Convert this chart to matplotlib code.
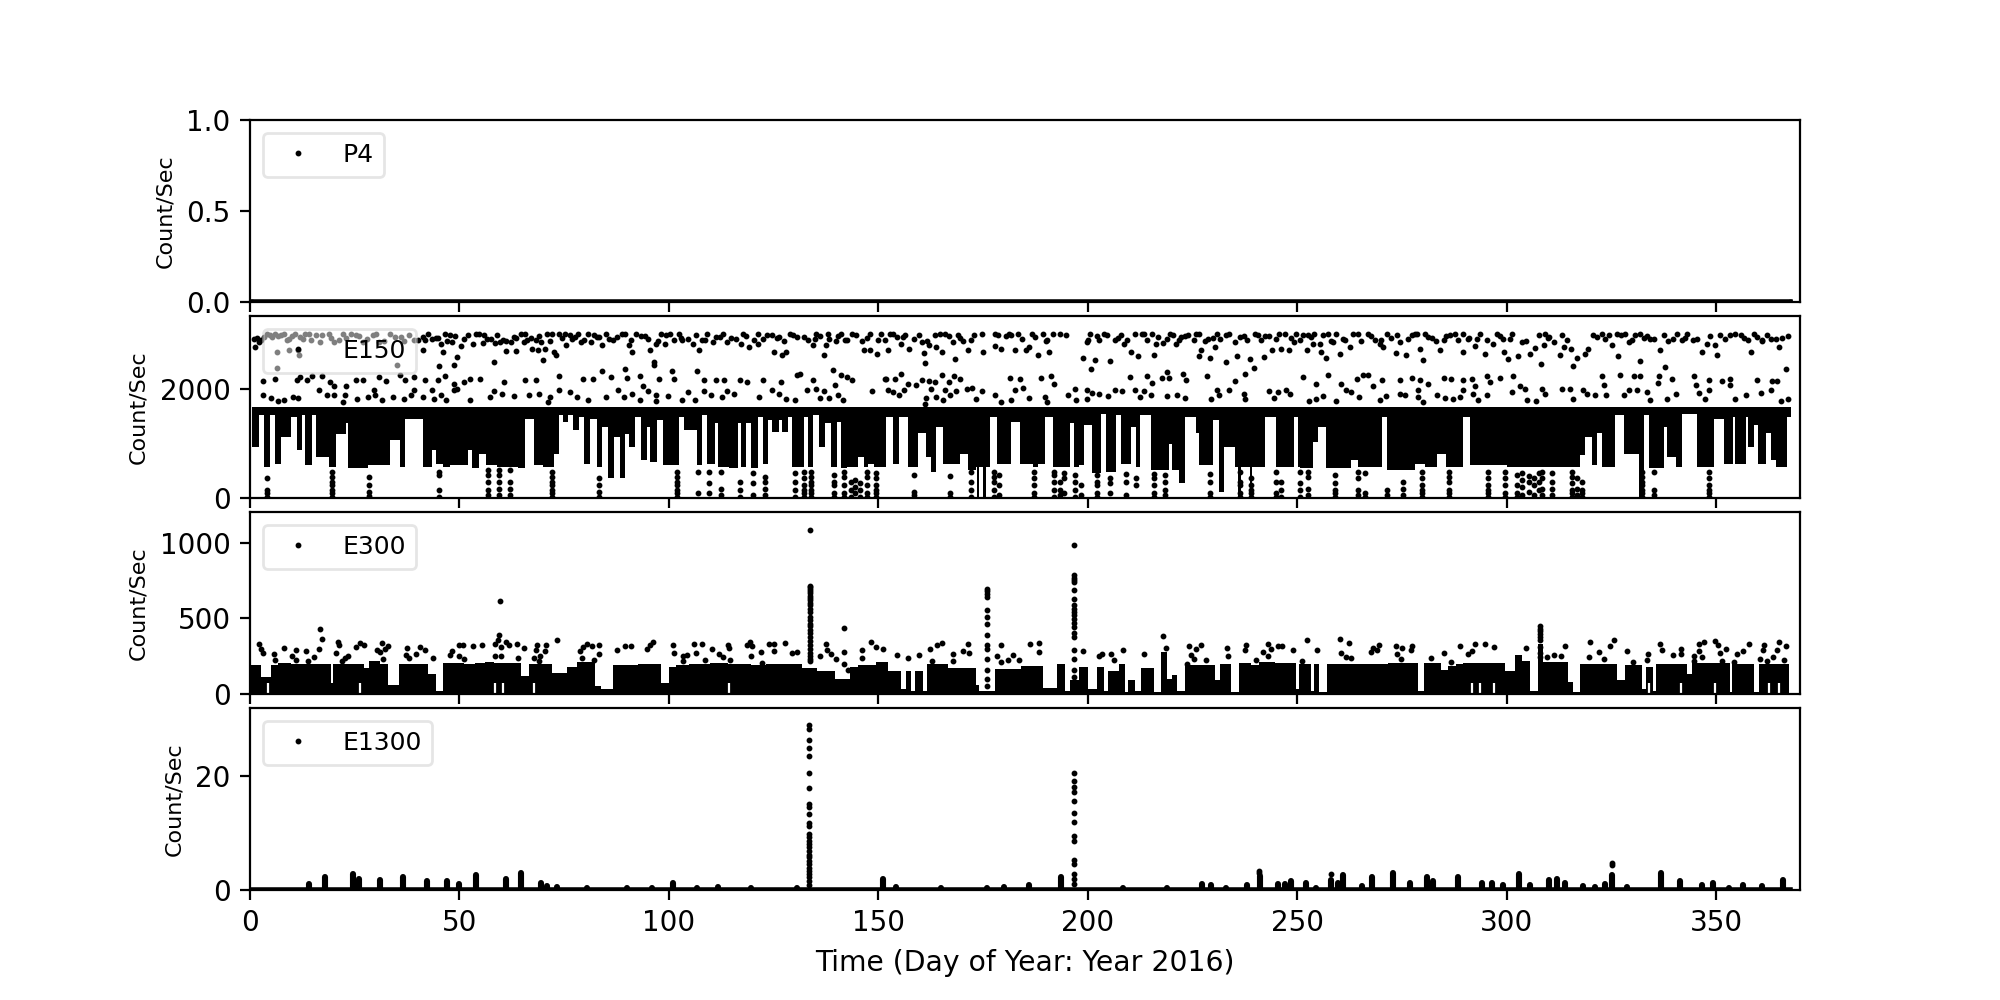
import matplotlib
matplotlib.use("Agg")
import matplotlib.pyplot as plt

x_label = "Time (Day of Year: Year 2016)"
y_label = "Count/Sec"
x_ticks = [0, 50, 100, 150, 200, 250, 300, 350]

# P4 stays at zero the whole year
p4_days = [0.4, 367.5]
p4_counts = [0, 0]

# E150: solid part of the curve, lower edge from each day until the next one
e150_band_days = [
    0.4, 2.1, 3.4, 4.7, 6.0, 7.5, 9.8, 11.1, 12.4, 13.2, 14.9, 15.8, 18.8, 20.5, 23.0, 23.5,
    28.2, 33.3, 35.8, 37.1, 41.4, 43.5, 44.4, 46.1, 47.8, 52.0, 52.9, 54.6, 56.3, 58.9, 64.0,
    65.7, 67.8, 70.0, 72.5, 73.8, 74.7, 75.9, 77.2, 78.5, 79.8, 81.1, 82.8, 84.0, 85.5, 86.9,
    88.3, 89.4, 90.4, 92.0, 93.4, 94.7, 95.6, 97.1, 98.5, 102.4, 103.7, 106.7, 107.9, 109.2,
    110.9, 111.8, 114.3, 116.5, 117.3, 118.4, 119.5, 121.3, 122.4, 123.7, 124.6, 126.3, 127.0,
    128.4, 129.3, 131.4, 132.3, 133.1, 134.4, 135.8, 137.2, 138.7, 140.1, 141.0, 142.5, 145.1,
    146.6, 147.6, 148.9, 151.9, 153.4, 154.9, 157.0, 159.4, 161.3, 162.5, 163.7, 165.4, 169.4,
    171.5, 173.2, 173.5, 174.1, 175.0, 175.8, 176.6, 178.3, 181.7, 183.9, 186.9, 188.1, 189.8, 191.6, 195.8, 196.7, 197.8,
    199.2, 200.9, 203.1, 204.4, 206.7, 207.8, 210.3, 211.6, 212.5, 215.0, 219.3, 220.1, 221.8,
    223.1, 225.7, 226.5, 229.9, 231.2, 232.5, 235.1, 235.8, 236.6, 238.6, 239.3, 242.3, 244.9, 249.1, 250.2, 250.6,
    253.7, 254.9, 256.9, 262.9, 264.5, 270.1, 271.3, 278.1, 280.5, 283.3, 285.6, 287.2, 289.6,
    291.2, 300.0, 303.2, 315.2, 317.5, 318.7, 320.3, 321.5, 322.7, 325.9, 327.9, 331.5, 332.7,
    333.9, 337.5, 338.3, 340.3, 341.9, 345.5, 349.4, 351.8, 354.0, 354.6, 357.0, 357.6, 358.9,
    360.0, 361.8, 363.0, 364.2, 366.8, 367.8,
]
e150_band_lows = [
    940, 1520, 570, 1520, 630, 1120, 1490, 880, 1520, 600, 1520, 755, 570, 1180, 1370, 540,
    600, 1060, 570, 1460, 570, 880, 630, 570, 600, 880, 540, 815, 600, 570, 540,
    1460, 600, 570, 815, 1520, 1400, 1520, 1245, 1490, 630, 1460, 570, 1305, 355, 1120,
    355, 1180, 940, 1490, 695, 1305, 665, 1430, 600, 1490, 1245, 600, 1520, 630,
    1370, 570, 540, 1370, 570, 1370, 540, 1490, 630, 1430, 1215, 1430, 1215,
    1490, 570, 570, 1490, 570, 1520, 940, 1370, 570, 1400, 540, 570, 755,
    570, 630, 570, 1490, 630, 1490, 570, 1185, 755, 480, 1305, 630, 815,
    510, 570, 18, 570, 18, 570, 1490, 630, 1400, 630, 570, 630, 1490, 570, 1370, 570, 600,
    1340, 450, 1550, 480, 1520, 630, 1305, 570, 1520, 510, 1000, 510, 265,
    1490, 1185, 600, 1430, 110, 940, 570, 18, 570, 18, 570, 1490, 570, 1490, 570, 540,
    1030, 1305, 540, 695, 570, 1490, 510, 630, 570, 815, 570, 570, 1490,
    600, 570, 570, 570, 785, 1120, 600, 1185, 570, 1520, 815, 18, 1520,
    540, 1305, 755, 570, 1550, 570, 1460, 630, 1490, 630, 1490, 940, 1340,
    630, 1185, 695, 570, 1490,
]
e150_band_top = 1670

# E150: dots above the solid part
e150_high_days = [
    0.9, 1.3, 2.1, 3.4, 4.7, 6.0, 6.8, 8.1, 9.4, 10.7, 11.9, 13.2, 14.5, 15.8, 16.6, 6.4, 9.4, 11.5, 11.8, 6.4,
    18.8, 20.1, 22.2, 23.0, 25.2, 26.9, 29.4, 30.7, 33.3, 34.6, 35.0, 36.7, 39.2, 41.4, 41.8, 41.4, 43.5, 44.4, 46.5, 47.8,
    45.6, 48.2, 46.1, 49.5, 48.6, 45.2, 50.3, 52.0, 51.2, 53.3, 54.6, 55.9, 55.5, 57.6, 58.4, 59.7, 61.0, 62.3, 63.6, 61.0,
    63.6, 58.2, 65.7, 65.3, 67.0, 68.3, 69.5, 70.8, 70.4, 67.4, 68.7, 70.0, 72.5, 73.0, 73.8, 75.1, 76.4, 77.6, 78.9, 75.5,
    80.6, 81.5, 82.8, 84.9, 84.0, 86.6, 87.5, 88.7, 90.4, 91.3, 92.2, 93.4, 95.1, 96.8, 95.6, 96.4, 96.4, 98.1, 99.4, 99.0,
    101.1, 102.4, 103.2, 104.5, 105.8, 107.1, 107.9, 109.2, 110.5, 112.2, 113.9, 114.8, 117.3, 117.7, 119.0, 121.2, 122.4, 124.6, 126.3, 128.0,
    127.1, 129.7, 125.0, 121.2,
    132.3, 133.1, 134.4, 135.2, 136.1, 136.9, 137.5, 138.2, 139.9, 141.0, 142.5, 143.8, 146.1, 146.6, 148.0, 148.0, 149.6, 150.6, 151.5, 152.3,
    152.7, 154.4, 155.3, 156.3, 157.4, 159.6, 160.8, 161.1, 160.4, 162.1, 163.4, 163.8, 165.1, 166.0, 167.7, 168.3, 168.9, 170.2, 171.5, 172.8,
    174.9, 174.7, 177.9, 177.9, 179.2, 180.5, 181.7, 182.6, 183.4, 185.2, 186.0, 186.7, 188.1, 189.4, 190.7, 190.3, 191.8, 194.7, 198.8, 199.7,
    200.5, 201.8, 200.7, 202.6, 203.9, 205.4, 206.5, 207.8, 208.6, 210.3, 211.2, 212.0, 212.9, 214.2, 215.4, 216.3, 215.9, 218.0, 219.7, 221.0,
    222.3, 224.0, 225.3, 226.5, 226.5, 227.0, 229.1, 228.7, 230.8, 230.4, 232.9, 232.9, 235.1, 235.7, 237.2, 238.7, 239.6, 239.9, 242.3, 242.1,
    244.0, 245.7, 246.2, 247.9, 249.1, 249.8,
    251.4, 252.6, 254.1, 255.3, 253.7, 252.2, 255.7, 256.9, 257.3, 258.5, 259.3, 261.3, 262.5, 260.3, 263.3, 265.3, 266.9, 268.5, 269.7, 270.5,
    271.3, 273.7, 273.5, 275.9, 274.5, 277.3, 278.5, 279.9, 279.3, 280.5, 282.1, 284.1, 284.9, 285.6, 287.6, 289.6, 289.5, 290.8, 292.4, 292.8,
    294.8, 296.8, 297.6, 299.2, 300.4, 299.4, 301.2, 302.6, 303.6, 305.6, 306.8, 308.1, 307.8, 309.2, 310.0, 308.8, 311.2, 313.2, 313.6, 312.8,
    315.3, 316.7, 315.9, 318.7, 319.5, 320.7, 322.7, 324.3, 325.1, 326.3, 328.3, 329.1, 330.7, 331.9, 334.3, 326.5, 331.9, 336.5, 337.5, 337.7,
    339.7, 341.9, 343.1, 345.5, 346.7, 347.8, 349.8, 350.2, 351.0, 353.4, 355.8, 358.2, 359.0, 361.0, 363.0, 365.0, 367.1, 366.6,
]
e150_high_counts = [
    2933, 2779, 2871, 2963, 2994, 3012, 2975, 3025, 2933, 3025, 2963, 3025, 2902, 2994, 2871, 2687, 2718, 2718, 2626, 2393,
    3025, 2871, 3025, 2951, 2994, 2871, 2994, 2871, 3025, 2963, 2442, 2890, 2902, 2963, 2902, 2718, 2933, 2951, 3025, 2994,
    2840, 2871, 2687, 2595, 2454, 2429, 2791, 2994, 2933, 2840, 3025, 2994, 2853, 2933, 2853, 2871, 2890, 2871, 2951, 2706,
    2699, 2503, 3025, 2871, 2951, 2902, 2871, 3025, 2748, 2748, 2718, 2546, 2687, 2626, 3025, 3025, 2994, 2963, 2871, 2810,
    3025, 2871, 2963, 3012, 2810, 2902, 2963, 3012, 2810, 2687, 3025, 2975, 2933, 2840, 2718, 2503, 2442, 3025, 2994, 2840,
    2914, 3025, 2902, 2933, 2840, 2718, 2902, 3012, 2871, 2963, 2871, 2951, 2840, 3025, 2779, 3025, 2933, 2994, 2963, 2687,
    2626, 2994, 2687, 2840,
    2963, 2902, 2810, 3025, 2975, 2626, 2810, 2933, 2890, 3025, 2902, 3012, 2890, 2718, 3012, 2730, 2657, 3025, 2902, 2718,
    3025, 2963, 2840, 2994, 2748, 2994, 2669, 2479, 2871, 2810, 2994, 2779, 2687, 3025, 2871, 2565, 2994, 2890, 2718, 2994,
    2687, 3012, 3012, 2791, 2748, 2975, 2994, 2730, 3025, 2718, 2779, 3012, 2626, 3025, 2687, 2902, 3025, 2994, 2577, 2871,
    3025, 2546, 2380, 2902, 3025, 2516, 2902, 2994, 2840, 2687, 3025, 2608, 3025, 2902, 3025, 2840, 2626, 2853, 3025, 2840,
    2963, 2994, 2902, 3025, 2608, 2718, 2583, 2933, 3025, 2779, 2503, 2994, 2871, 2608, 2975, 2565, 2399, 3025, 2975, 2595,
    2718, 3025, 2748, 2718, 2871, 3012,
    2994, 2994, 3025, 2840, 2840, 2718, 2687, 2583, 3025, 2871, 3012, 2902, 2779, 2645, 3025, 2890, 3012, 2902, 2840, 2779,
    3025, 2994, 2669, 2626, 2871, 2994, 3025, 2546, 2748, 3025, 2951, 2718, 2902, 2975, 3025, 3025, 2687, 2933, 2791, 2933,
    2657, 2840, 3025, 2933, 2565, 2687, 3025, 2608, 2871, 2645, 2767, 2473, 2994, 3025, 2963, 2810, 2871, 2994, 2779, 2626,
    2748, 2583, 2423, 2657, 2748, 2994, 3025, 2994, 2810, 3025, 3025, 2871, 2994, 3025, 2933, 2608, 2516, 2718, 2994, 2411,
    2933, 2902, 3025, 2933, 2687, 2840, 2810, 2626, 2994, 2994, 2994, 2687, 3025, 2902, 2933, 2779, 2975, 2380,
]

# E150: the crowded top row of dots
e150_top_days = [
    1.7, 2.6, 4.0, 5.2, 7.4, 8.8, 10.1, 12.6, 14.0, 17.3, 19.4, 21.2, 24.0, 25.9, 28.0, 30.0, 32.0, 36.0, 37.9, 40.2,
    42.6, 44.9, 47.1, 49.0, 53.9, 56.6, 59.0, 60.4, 62.9, 64.6, 66.2, 69.0, 71.6, 72.2, 74.5, 76.9, 78.2, 79.8, 82.1, 83.4,
    85.7, 89.5, 91.0, 94.4, 97.5, 100.2, 102.9, 106.4, 108.5, 111.3, 113.0, 115.9, 118.4, 120.3, 123.5, 125.8, 127.5, 129.0, 130.6, 134.8,
    137.9, 140.3, 142.0, 144.6, 147.3, 150.0, 153.5, 155.8, 158.4, 161.7, 164.6, 166.9, 169.5, 172.1, 178.6, 181.2, 184.3, 187.5, 190.0, 193.4,
    200.1, 202.2, 204.6, 207.1, 209.4, 213.5, 216.8, 218.9, 220.4, 221.7, 223.2, 225.9, 228.0, 229.8, 231.6, 233.6, 236.4, 238.1, 240.6, 241.3,
    243.2, 245.0, 247.0, 248.6, 250.7, 253.2, 256.2, 258.0, 260.8, 264.4, 267.6, 270.0, 272.4, 276.4, 278.0, 281.3, 283.0, 286.4, 288.4, 291.0,
    293.6, 295.4, 298.4, 300.8, 304.6, 309.9, 314.3, 321.5, 323.5, 327.2, 330.0, 332.7, 333.4, 335.1, 338.6, 340.6, 342.5, 344.4, 348.5, 352.2,
    354.6, 356.7, 357.5, 359.8, 360.9, 362.1, 364.2, 365.7,
]
e150_top_counts = [
    2951, 2902, 3012, 2963, 2994, 2914, 2975, 2933, 3012, 2994, 2951, 2902, 3012, 2975, 2933, 3025, 2890, 2963, 2994, 2914,
    3012, 2951, 2890, 2975, 3012, 2933, 2994, 2902, 2963, 3025, 2914, 2975, 2890, 3012, 2951, 2933, 3012, 2902, 2994, 2963,
    2933, 3012, 2902, 2975, 2890, 3012, 2951, 2994, 2914, 2963, 3025, 2933, 2975, 2902, 2994, 2951, 2890, 3012, 2963, 2933,
    3012, 2975, 2914, 2994, 2951, 2902, 3025, 2963, 2933, 2890, 3012, 2975, 2951, 2902, 2994, 3012, 2933, 2963, 2890, 3025,
    2914, 2975, 2994, 2951, 2902, 3012, 2963, 2933, 2994, 2902, 2975, 3012, 2890, 2951, 2933, 3025, 2963, 2902, 2994, 2914,
    2975, 2933, 3012, 2951, 2902, 2963, 2994, 2890, 2933, 3012, 2975, 2902, 2951, 2933, 3012, 2963, 2890, 2994, 2914, 2951,
    3025, 2902, 2975, 2933, 2890, 2951, 2902, 2963, 2933, 2994, 2902, 2951, 2975, 2933, 2890, 3012, 2951, 2914, 2975, 2933,
    3012, 2951, 2902, 2963, 2890, 2994, 2933, 2951,
]

e150_mid_days = [
    3.0, 6.0, 11.1, 11.9, 13.7, 14.9, 17.1, 19.2, 20.1, 22.9, 25.2, 27.0, 30.7, 32.4, 35.8, 37.1, 39.2, 41.8, 44.8, 46.5,
    48.6, 51.2, 52.6, 55.0, 60.6, 65.7, 68.3, 73.8, 79.4, 81.9, 84.0, 86.2, 89.6, 90.0, 93.0, 97.7, 100.7, 101.1, 106.7, 108.4,
    111.3, 113.1, 116.9, 118.6, 122.4, 126.7, 130.5,
    3.2, 5.1, 6.8, 8.1, 10.2, 11.5, 16.4, 18.3, 20.1, 22.6, 22.2, 25.6, 28.2, 29.7, 29.9, 31.6, 34.1, 36.7, 39.2, 38.4,
    41.4, 43.5, 43.9, 45.6, 48.6, 49.5, 46.9, 52.5, 57.2, 58.2, 60.2, 63.1, 66.6, 69.1, 71.7, 71.2, 73.8, 76.4, 78.1, 80.6,
    84.9, 87.9, 89.2, 91.3, 93.0, 93.9, 95.1, 96.8, 96.8, 99.8, 103.2, 104.5, 106.2, 108.4, 110.1, 112.6, 113.9, 115.6, 121.6, 124.6,
    126.3, 128.0, 130.1,
    131.4, 134.4, 132.9, 135.2, 136.9, 136.1, 139.1, 139.7, 141.0, 142.5, 143.8, 140.4, 141.6, 138.1, 148.5, 151.5, 152.3, 151.9, 154.0, 155.3,
    153.6, 154.9, 157.0, 156.1, 158.9, 160.4, 162.1, 163.4, 165.1, 166.8, 168.1, 169.4, 162.5, 166.0, 168.5, 167.2, 163.8, 161.3, 165.5, 171.1,
    172.4, 174.7, 173.2, 161.1, 177.9, 179.2, 181.3, 181.7, 183.7, 182.6, 184.5, 186.0, 188.7, 189.8, 191.1, 192.0, 190.3, 195.2, 196.9, 197.1,
    199.7, 199.7, 200.9, 202.6, 204.8, 206.5, 208.2, 211.2, 213.5, 212.5, 215.0, 210.1, 214.2, 215.4, 217.6, 218.9, 219.3, 222.7, 223.5, 218.9,
    221.4, 223.1, 228.5, 229.3, 230.8, 231.4, 233.8, 235.2, 237.4, 237.2, 237.6, 243.3, 244.5, 245.3, 247.3, 248.3,
    251.4, 254.5, 257.3, 260.5, 261.7, 262.9, 264.3, 265.7, 266.9, 270.1, 268.1, 274.5, 277.3, 279.3, 281.3, 284.9, 286.8, 289.6, 291.6, 292.4,
    295.2, 296.0, 298.4, 301.6, 252.9, 254.5, 256.1, 259.3, 264.8, 269.7, 271.1, 274.5, 275.7, 278.9, 278.9, 280.1, 283.3, 285.2, 287.2, 289.6,
    288.8, 292.0, 293.2, 295.2, 301.2, 303.2, 304.4, 304.8, 307.0, 308.5, 309.2, 313.2, 315.2, 315.9, 318.3, 319.1, 321.1, 322.7, 323.1, 323.8,
    327.1, 330.3, 331.9, 333.5, 336.3, 336.1, 339.5, 338.3, 340.3, 329.1, 327.9, 331.1, 334.3, 344.7, 345.1, 348.2, 348.2, 351.4, 353.4, 353.4,
    345.9, 347.4, 354.6, 357.0, 359.8, 360.6, 363.0, 363.4, 364.6, 365.4, 367.1,
]
e150_mid_counts = [
    2147, 2196, 2166, 2227, 2166, 2239, 2239, 2135, 2055, 2055, 2166, 2178, 2227, 2153, 2258, 2178, 2227, 2166, 2178, 2239,
    2104, 2135, 2196, 2196, 2135, 2166, 2166, 2239, 2196, 2196, 2337, 2227, 2380, 2215, 2239, 2196, 2337, 2196, 2337, 2178,
    2178, 2166, 2178, 2135, 2166, 2135, 2258,
    1902, 1847, 1779, 1798, 1859, 1847, 1994, 1890, 1890, 1890, 1767, 1816, 1859, 1982, 1890, 1798, 1859, 1828, 1982, 1890,
    1859, 1982, 1828, 1890, 1982, 2012, 1798, 1810, 1859, 1969, 1920, 1871, 1890, 1920, 1859, 1767, 1982, 1951, 1859, 1798,
    1859, 1982, 1859, 1908, 1798, 2055, 1969, 1890, 1779, 1871, 1810, 1951, 1798, 1969, 1890, 1859, 1969, 1920, 1859, 1994,
    1920, 1828, 1810,
    2276, 2178, 1982, 2012, 1969, 1847, 2350, 2074, 2258, 2227, 2178, 1890, 1798, 1847, 1969, 2196, 1982, 2196, 2196, 2276,
    1951, 1890, 2092, 1982, 2074, 2178, 2147, 2135, 2258, 2135, 2239, 2196, 2012, 1982, 1969, 1890, 1859, 1847, 1798, 2012,
    2031, 1969, 1828, 1724, 1890, 1767, 2215, 1798, 2196, 1994, 2031, 1847, 2215, 1859, 2239, 2092, 1767, 1902, 2012, 1810,
    1994, 1828, 1933, 1908, 1871, 1982, 1969, 1982, 1969, 1859, 1890, 2227, 2252, 2117, 2215, 2319, 2215, 2276, 2166, 1871,
    1890, 1847, 2252, 1828, 1994, 1890, 1982, 2147, 2276, 1920, 1816, 1969, 1847, 1951, 1982, 1920,
    2227, 2092, 2258, 2104, 1982, 1951, 2196, 2258, 2258, 2178, 2055, 2178, 2215, 2166, 2104, 2215, 2196, 2166, 2196, 2055,
    2239, 2135, 2215, 2239, 1785, 1828, 1871, 1779, 1859, 1798, 1871, 1908, 1890, 1982, 1859, 1767, 1890, 1841, 1828, 1982,
    1859, 1920, 1798, 1890, 1951, 2055, 2012, 1798, 1779, 2012, 1908, 2012, 2012, 1816, 1982, 1920, 1890, 2239, 2086, 1890,
    2258, 2239, 2239, 1951, 2239, 2117, 2196, 1828, 1920, 1982, 1890, 1994, 1798, 2239, 2074, 2178, 1982, 2147, 2196, 2074,
    1933, 1828, 1828, 1890, 2178, 1939, 1994, 2147, 2147, 1785, 1828,
]

# E150: dots under the solid part, each day with the counts seen in its column
e150_col_days = [
    4.1, 19.6, 28.3, 45.0, 56.9, 59.5, 62.0, 72.1, 83.4, 102.0, 107.0, 109.6, 112.5, 117.0, 120.0, 123.0, 130.0,
    132.3, 133.8, 139.3, 141.8, 143.4, 144.4, 145.5, 147.2, 149.5, 158.5, 167.0, 172.2, 177.5, 178.8, 187.1, 192.0,
    193.3, 194.2, 197.0, 198.3, 202.2, 205.4, 209.0, 211.6, 215.9, 218.4, 229.1, 236.3, 239.0, 244.9, 246.2, 250.7,
    252.6, 258.9, 264.5, 266.1, 271.4, 275.3, 279.7, 286.3, 295.6, 299.5, 302.4, 303.6, 305.2, 306.4, 307.6, 308.4,
    310.8, 315.6, 316.7, 317.9, 332.3, 335.1, 348.2,
]
e150_col_counts = [
    [18, 80, 141, 355], [18, 80, 141, 233, 294, 387, 479], [40, 110, 233, 387], [18, 141, 420, 479],
    [50, 141, 294, 420, 515], [50, 170, 294, 420, 515], [50, 170, 294, 515], [18, 80, 141, 233, 294, 387, 479],
    [18, 110, 233, 355], [18, 80, 141, 233, 294, 387, 479], [80, 479], [80, 265, 479], [50, 170, 479],
    [18, 141, 294], [50, 265, 450], [50, 170, 294, 387], [18, 141, 294, 450],
    [18, 80, 141, 233, 355, 479], [18, 80, 141, 233, 294, 387, 479], [18, 80, 233, 294, 420], [18, 80, 233, 387, 480],
    [18, 141, 294], [80, 200, 330], [18, 141, 265], [18, 80, 233, 387, 479], [18, 80, 141, 233, 355, 450],
    [50, 110, 420], [18, 80, 400], [18, 141, 294, 479], [18, 141, 294, 387, 479], [50, 233, 420], [18, 80, 233, 355, 479], [18, 141, 294, 420, 479],
    [50, 140, 294], [80, 355, 450], [18, 141, 294, 420], [50, 233], [18, 80, 233, 294, 420], [80, 265, 360], [50, 294, 440], [233, 355],
    [18, 80, 233, 355, 440], [50, 141, 294, 420], [18, 80, 294, 440], [18, 80, 233, 294, 479], [18, 80, 141, 233, 355], [18, 80, 294, 479], [18, 141, 294], [18, 141, 265, 479],
    [50, 170, 387, 479], [18, 80, 141, 265, 420], [50, 141, 355, 479], [18, 80, 450], [50, 141], [50, 170, 294], [18, 80, 141, 233, 355, 479], [18, 80, 141, 294, 387, 479], [18, 80, 141, 233, 355, 479],
    [18, 80, 233, 355, 479], [18, 80, 233, 420], [50, 200, 330, 450], [110, 294, 400], [50, 233, 355], [141, 294, 450], [50, 170, 355, 479],
    [50, 170, 294, 450], [18, 80, 141, 265, 387, 479], [50, 170, 355], [18, 80, 141, 294], [18, 80, 141, 233, 294, 387, 479], [50, 141, 479], [18, 80, 141, 233, 355, 479],
]

# E300: solid part of the curve, height from each day until the next one
e300_band_days = [
    0.2, 2.7, 4.9, 6.8, 9.8, 19.3, 19.8, 27.3, 28.3, 31.1, 32.9, 35.6, 42.4, 44.5, 46.1, 51.0, 53.7, 56.1, 58.2, 64.6,
    66.6, 72.0, 75.6, 78.0, 82.3, 83.9, 86.6, 92.7, 98.2, 100.0, 101.8, 104.9, 109.8, 114.0, 116.5, 119.5, 123.2, 131.7,
    135.4, 139.6, 143.3, 145.1, 149.4, 152.4, 155.5, 156.5, 157.9, 158.8, 160.7, 161.6, 166.5, 173.2, 174.1, 177.8, 184.1,
    189.4, 192.6, 194.6, 195.8, 198.0, 200.0, 202.1, 203.9, 204.9, 207.5, 208.9, 209.6, 211.3, 212.8, 215.8, 217.4, 218.8,
    220.0, 221.4, 223.2, 230.3, 231.5, 234.2, 236.0, 239.0, 240.8, 244.6, 249.7, 250.5, 253.3, 253.9, 255.1, 257.2, 271.7,
    278.8, 280.3, 284.2, 286.0, 287.8, 289.5, 299.6, 302.0, 303.6, 305.6, 307.4, 308.6, 314.5, 315.9, 317.5, 326.4, 328.2,
    332.3, 333.3, 335.0, 335.7, 343.0, 344.2, 353.2, 353.8, 359.1, 360.3, 367.4,
]
e300_band_tops = [
    190, 110, 190, 205, 200, 70, 200, 170, 215, 200, 60, 200, 130, 20, 205, 195, 205, 210, 205, 120,
    200, 140, 175, 210, 50, 30, 190, 200, 70, 180, 190, 200, 205, 195, 200, 190, 200, 170,
    150, 100, 180, 190, 210, 150, 30, 150, 20, 150, 20, 200, 170, 60, 20, 165, 185,
    40, 195, 20, 90, 175, 30, 180, 20, 150, 195, 10, 90, 20, 170, 10, 280, 100,
    125, 20, 190, 90, 200, 10, 205, 190, 210, 205, 30, 200, 20, 195, 10, 200, 205,
    20, 205, 160, 185, 200, 205, 150, 260, 220, 20, 330, 210, 80, 10, 200, 90, 190,
    30, 175, 20, 200, 130, 205, 15, 200, 10, 200,
]
e300_notch_days = [4.3, 26.2, 58.5, 60.4, 67.7, 114.4, 291.7, 293.7, 297.0, 334.0, 341.7, 349.8, 362.5, 365.0]
e300_notch_top = 70

e300_dot_days = [
    2.2, 2.7, 3.0, 5.7, 5.9, 8.2, 10.1, 11.0, 11.0, 13.4, 13.8, 15.2, 16.5, 16.8, 17.1, 21.0, 21.3, 20.5, 22.0, 23.5,
    22.6, 25.4, 26.2, 27.2, 30.2, 31.6, 31.1, 32.3, 32.9, 31.7, 37.4, 37.2, 38.0, 39.6, 40.5, 41.8, 43.7, 48.2, 47.8, 49.8,
    50.9, 53.3, 55.4, 50.0, 51.0, 58.5, 59.5, 59.1, 59.8, 61.0, 61.8, 63.8, 65.4, 58.5, 59.8, 64.0, 68.5, 70.7, 68.3, 70.5,
    69.3, 67.7, 68.9, 73.4, 78.7, 79.5, 80.5, 81.7, 79.3, 82.0, 83.3, 83.3, 87.6, 89.6, 90.9, 94.8, 95.5, 96.1, 101.0, 101.1,
    103.4, 104.3, 103.4, 105.9, 106.5, 107.9, 108.5, 110.4, 112.0, 112.8, 114.0, 114.4, 114.6, 118.7, 119.3, 119.9, 119.5, 122.0, 123.8, 125.2,
    125.0, 127.8, 129.3, 130.5, 122.2, 59.6, 136.0, 137.6, 137.8, 138.8, 140.0, 141.7, 141.7, 141.7, 142.7, 146.1, 146.1, 148.2, 149.4, 151.2,
    154.5, 157.1, 159.8, 162.4, 164.0, 165.2, 162.8, 167.7, 167.7, 170.2, 171.3, 171.6, 178.3, 179.3, 179.3, 180.9, 182.1, 183.5, 186.2, 188.4,
    188.4, 198.9, 202.7, 203.3, 205.5, 206.3, 208.4, 213.4, 218.0, 218.7, 224.1, 226.9, 225.7, 224.7, 225.3, 223.7, 228.1, 233.3, 233.4, 237.8,
    237.6, 240.2, 241.7, 242.9, 243.8, 242.9, 245.3, 246.4, 248.9, 252.2, 254.6, 251.2, 260.3, 262.4, 260.4, 261.6, 262.9, 267.5, 268.1, 269.6,
    269.0, 273.5, 274.9, 277.3, 277.1, 273.7, 274.7, 282.0, 285.1, 286.8, 288.9, 290.7, 291.7, 292.5, 294.9, 296.9, 304.5, 309.5, 311.3, 313.0,
    313.9, 319.9, 319.6, 322.0, 323.1, 324.6, 325.6, 328.8, 330.2, 333.8, 333.5, 336.5, 337.1, 339.7, 341.6, 341.6, 345.8, 347.0, 346.0, 344.8,
    346.6, 344.6, 349.7, 350.4, 352.3, 350.8, 351.4, 354.9, 356.4, 357.9, 354.3, 361.5, 361.1, 360.5, 363.5, 365.0, 366.6, 364.4, 362.1, 366.2,
]
e300_dot_counts = [
    332, 299, 270, 265, 226, 305, 252, 292, 226, 285, 221, 243, 299, 431, 365, 343, 327, 270, 221, 254,
    237, 310, 336, 321, 288, 336, 277, 299, 314, 232, 305, 259, 237, 261, 310, 292, 239, 283, 257, 327,
    325, 314, 321, 252, 232, 332, 387, 354, 310, 343, 321, 332, 303, 254, 248, 239, 327, 325, 288, 283,
    254, 237, 215, 354, 283, 310, 332, 314, 239, 226, 327, 265, 292, 314, 314, 299, 327, 341, 321, 270,
    248, 257, 221, 332, 270, 332, 226, 299, 265, 243, 327, 303, 226, 327, 343, 319, 248, 277, 332, 332,
    281, 336, 274, 279, 206, 617, 254, 332, 288, 261, 232, 438, 277, 199, 155, 292, 239, 343, 310, 299,
    259, 237, 259, 299, 321, 338, 221, 265, 215, 281, 332, 272, 254, 327, 210, 226, 259, 226, 332, 336,
    277, 281, 254, 261, 265, 226, 292, 265, 381, 305, 319, 325, 294, 259, 232, 199, 226, 305, 248, 321,
    292, 226, 277, 332, 299, 248, 319, 319, 288, 358, 288, 217, 365, 336, 270, 243, 239, 277, 305, 325,
    288, 314, 305, 319, 288, 265, 232, 239, 272, 210, 319, 265, 283, 332, 332, 310, 305, 243, 259, 248,
    314, 345, 243, 277, 232, 319, 354, 285, 210, 261, 226, 332, 288, 259, 299, 265, 332, 345, 283, 254,
    243, 221, 347, 321, 296, 270, 221, 261, 283, 332, 210, 327, 288, 232, 243, 343, 319, 288, 217, 226,
]

# E300: days with a burst, and the counts stacked on each
e300_burst_days = [133.7, 175.9, 196.8, 308.0]
e300_burst_counts = [
    [1088, 715, 705, 695, 680, 665, 650, 635, 620, 600, 590, 560, 540, 510, 490, 465, 450, 420, 400, 375, 350, 325, 300, 270, 250, 230, 215],
    [697, 680, 660, 640, 553, 509, 465, 387, 321, 299, 232, 155, 100, 55],
    [989, 785, 770, 755, 741, 690, 628, 586, 565, 540, 520, 495, 470, 440, 400, 375, 288, 232, 155, 110, 77],
    [447, 430, 415, 395, 375, 355, 310, 270, 243],
]

# E1300: short humps along the base line
e1300_hump_days = [
    14.0, 18.0, 24.6, 26.0, 31.1, 36.6, 42.3, 47.0, 49.8, 53.9, 61.0, 64.6, 69.5, 71.0, 73.4, 80.5, 90.0, 96.0, 100.9, 106.7,
    111.6, 119.5, 130.5, 151.0, 154.3, 165.0, 175.9, 179.9, 186.0, 193.6, 208.3, 218.8, 227.3, 229.5, 233.0, 238.0, 241.0,
    245.5, 247.0, 248.5, 252.0, 254.5, 258.0, 259.8, 261.0, 265.5, 267.9, 272.9, 277.0, 280.9, 282.4, 288.3, 294.0, 296.4,
    299.0, 302.9, 305.5, 310.2, 312.1, 314.0, 318.2, 321.0, 323.4, 325.2, 328.8, 336.9, 341.3, 346.6, 349.3, 353.0, 356.5,
    360.9, 365.9,
]
e1300_hump_heights = [
    1.0, 2.2, 2.8, 2.0, 1.8, 2.2, 1.6, 1.6, 1.0, 2.7, 1.9, 3.0, 1.2, 0.7, 0.5, 0.4, 0.3, 0.4, 1.2, 0.4,
    0.6, 0.3, 0.4, 2.0, 0.6, 0.3, 0.4, 0.6, 0.9, 2.2, 0.4, 0.3, 1.0, 0.9, 0.4, 0.9, 2.4,
    1.0, 1.0, 1.6, 1.3, 0.4, 1.7, 1.3, 2.7, 0.7, 2.2, 2.9, 1.2, 2.3, 1.6, 2.3, 1.3, 1.3,
    0.8, 2.8, 0.9, 1.8, 2.0, 1.2, 0.7, 0.6, 1.0, 2.6, 0.6, 2.9, 1.6, 0.9, 1.3, 0.3, 0.9,
    0.7, 1.7,
]
e1300_base_days = [0.4, 367.5]
e1300_base_counts = [0, 0]
e1300_burst_days = [133.5, 196.8, 240.8, 258.0, 325.2]
e1300_burst_counts = [
    [28.9, 28.2, 26.2, 24.8, 23.5, 20.4, 17.8, 15.0, 14.6, 13.3, 11.8, 11.2, 9.8, 9.2, 8.6, 8.0, 7.5, 6.9, 6.2, 5.7, 5.1, 4.5, 3.9, 3.4, 2.8, 2.2, 1.5, 0.8],
    [20.4, 19.1, 18.1, 17.1, 15.6, 13.4, 11.9, 9.5, 8.5, 5.3, 4.6, 2.8, 1.9, 1.0],
    [3.4, 3.0],
    [2.8],
    [4.7, 4.4],
]


def flatten_columns(days, columns):
    """Turns per-day lists of counts into two plain lists for plotting"""
    xs = []
    ys = []
    for day, counts in zip(days, columns):
        for count in counts:
            xs.append(day)
            ys.append(count)
    return xs, ys


def format_panel(ax, ylim, yticks):
    ax.set_xlim(0, 370)
    ax.set_ylim(*ylim)
    ax.set_yticks(yticks)
    ax.set_xticks(x_ticks)
    ax.set_ylabel(y_label, fontsize=8)
    ax.legend(loc="upper left", fontsize=9, framealpha=0.5)


dot = dict(color="k", linestyle="none", marker=".", markersize=2.2)

fig, axes = plt.subplots(4, 1, figsize=(10, 5), sharex=True)
fig.subplots_adjust(left=0.125, right=0.9, top=0.88, bottom=0.11, hspace=0.08)

# P4
axes[0].plot(p4_days, p4_counts, label="P4", **dot)
axes[0].plot(p4_days, p4_counts, "k-", lw=2)
format_panel(axes[0], (0, 1), [0, 0.5, 1.0])

# E150
ax = axes[1]
ax.fill_between(e150_band_days, e150_band_lows + e150_band_lows[-1:], e150_band_top,
                step="post", color="k", lw=0)
low_x, low_y = flatten_columns(e150_col_days, e150_col_counts)
ax.plot(low_x, low_y, **dot)
ax.plot(e150_mid_days, e150_mid_counts, **dot)
ax.plot(e150_top_days, e150_top_counts, **dot)
ax.plot(e150_high_days, e150_high_counts, label="E150", **dot)
format_panel(ax, (0, 3350), [0, 2000])

# E300
ax = axes[2]
ax.fill_between(e300_band_days, 0, e300_band_tops + e300_band_tops[-1:],
                step="post", color="k", lw=0)
ax.vlines(e300_notch_days, 0, e300_notch_top, color="w", lw=0.8)
burst_x, burst_y = flatten_columns(e300_burst_days, e300_burst_counts)
ax.plot(burst_x, burst_y, **dot)
ax.plot(e300_dot_days, e300_dot_counts, label="E300", **dot)
format_panel(ax, (0, 1203), [0, 500, 1000])

# E1300
ax = axes[3]
ax.plot(e1300_base_days, e1300_base_counts, "k-", lw=2)
ax.vlines(e1300_hump_days, 0, e1300_hump_heights, color="k", lw=2.2, capstyle="round")
burst_x, burst_y = flatten_columns(e1300_burst_days, e1300_burst_counts)
ax.plot(burst_x, burst_y, label="E1300", **dot)
format_panel(ax, (0, 31.8), [0, 20])
ax.set_xlabel(x_label, fontsize=10.2)

fig.savefig("out.png", dpi=200)
